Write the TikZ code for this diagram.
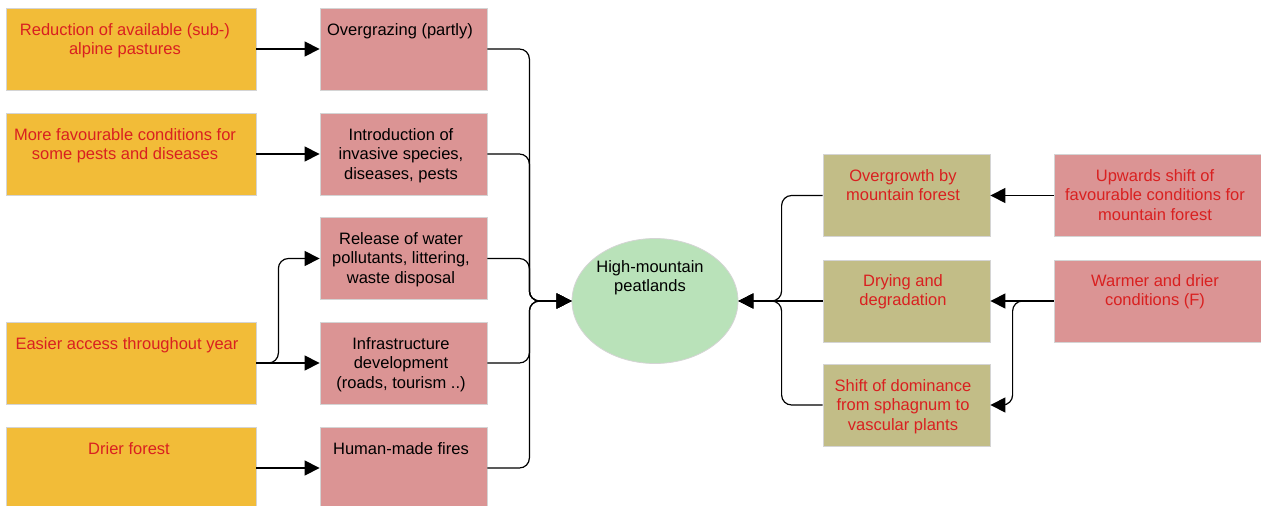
\documentclass[tikz,border=0pt]{standalone}
\usepackage{fontspec}
\setmainfont{Liberation Sans}
\usetikzlibrary{arrows.meta,shapes.geometric}
\definecolor{cyellow}{RGB}{242,188,56}
\definecolor{cpink}{RGB}{219,148,148}
\definecolor{colive}{RGB}{194,189,135}
\definecolor{cgreen}{RGB}{185,226,185}
\definecolor{cred}{RGB}{217,32,32}
\definecolor{cborder}{RGB}{212,212,212}
\begin{document}
\begin{tikzpicture}[x=1pt,y=-1pt,
  box/.style={draw=cborder, line width=0.8pt, inner sep=0pt, minimum height=82pt},
  ybox/.style={box, fill=cyellow, minimum width=250pt},
  pbox/.style={box, fill=cpink, minimum width=167pt},
  obox/.style={box, fill=colive, minimum width=167pt},
  rbox/.style={box, fill=cpink, minimum width=210pt},
  txt/.style={anchor=north, inner sep=0pt, align=center, font=\fontsize{16.5}{19.5}\selectfont},
  rtxt/.style={txt, text=cred},
  btxt/.style={txt, text=black},
  conn/.style={draw=black, line width=1.2pt, rounded corners=10pt, -{Triangle[length=15pt,width=15pt]}}
]
\useasboundingbox (0,0) rectangle (1261,506);

% left yellow boxes
\node[ybox] (Y1) at (131,49) {};
\node[ybox] (Y2) at (131,154) {};
\node[ybox] (Y3) at (131,363) {};
\node[ybox] (Y4) at (131,468) {};
\node[rtxt] (tY1) at (125,21.4) {\strut Reduction of available (sub-)\\alpine pastures};
\node[rtxt] (tY2) at (125,126.4) {\strut More favourable conditions for\\some pests and diseases};
\node[rtxt] (tY3) at (127,335.4) {\strut Easier access throughout year};
\node[rtxt] (tY4) at (129,440.4) {\strut Drier forest};

% middle pink boxes
\node[pbox] (P1) at (403.5,49) {};
\node[pbox] (P2) at (403.5,154) {};
\node[pbox] (P3) at (403.5,258.5) {};
\node[pbox] (P4) at (403.5,363) {};
\node[pbox] (P5) at (403.5,468) {};
\node[btxt] (tP1) at (400,21.4) {\strut Overgrazing (partly)};
\node[btxt] (tP2) at (401,126.4) {\strut Introduction of\\invasive species,\\diseases, pests};
\node[btxt] (tP3) at (401,230.4) {\strut Release of water\\pollutants, littering,\\waste disposal};
\node[btxt] (tP4) at (401,335.4) {\strut Infrastructure\\development\\(roads, tourism ..)};
\node[btxt] (tP5) at (401,440.4) {\strut Human-made fires};

% central ellipse
\node[draw=cborder, line width=0.8pt, fill=cgreen, ellipse, minimum width=166pt, minimum height=125pt, inner sep=0pt] (E) at (655,301) {};
\node[btxt] (tE) at (650,258.4) {\strut High-mountain\\peatlands};

% olive boxes
\node[obox] (O1) at (906.5,195.5) {};
\node[obox] (O2) at (906.5,301) {};
\node[obox] (O3) at (906.5,405) {};
\node[rtxt] (tO1) at (903,167.4) {\strut Overgrowth by\\mountain forest};
\node[rtxt] (tO2) at (903,272.4) {\strut Drying and\\degradation};
\node[rtxt] (tO3) at (903,377.4) {\strut Shift of dominance\\from sphagnum to\\vascular plants};

% right pink boxes
\node[rbox] (R1) at (1159,195.5) {};
\node[rbox] (R2) at (1159,301) {};
\node[rtxt] (tR1) at (1155,167.4) {\strut Upwards shift of\\favourable conditions for\\mountain forest};
\node[rtxt] (tR2) at (1155,272.4) {\strut Warmer and drier\\conditions (F)};

% connectors left
\draw[conn] (Y1.east) -- (P1.west);
\draw[conn] (Y2.east) -- (P2.west);
\draw[conn] (Y3.east) -- ++(22,0) |- (P3.west);
\draw[conn] (Y3.east) -- (P4.west);
\draw[conn] (Y4.east) -- (P5.west);

\draw[conn] (P1.east) -- ++(42,0) |- (E.west);
\draw[conn] (P2.east) -- ++(42,0) |- (E.west);
\draw[conn] (P3.east) -- ++(42,0) |- (E.west);
\draw[conn] (P4.east) -- ++(42,0) |- (E.west);
\draw[conn] (P5.east) -- ++(42,0) |- (E.west);

% connectors right
\draw[conn] (O1.west) -- ++(-41,0) |- (E.east);
\draw[conn] (O2.west) -- (E.east);
\draw[conn] (O3.west) -- ++(-41,0) |- (E.east);

\draw[conn] (R1.west) -- (O1.east);
\draw[conn] (R2.west) -- (O2.east);
\draw[conn] (R2.west) -- ++(-41,0) |- (O3.east);
\end{tikzpicture}
\end{document}
